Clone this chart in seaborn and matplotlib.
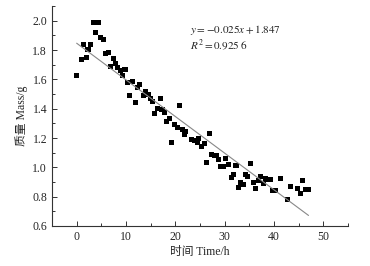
import matplotlib
matplotlib.use('Agg')
import numpy as np
import pandas as pd
import seaborn as sns
from matplotlib import pyplot as plt
from matplotlib.ticker import MultipleLocator

# 数据
time_h = [0, 0.9, 1.35, 1.9, 2.3, 2.8, 3.4, 3.8, 4.4, 4.8, 5.4, 5.8, 6.4, 6.8, 7.4, 7.9,
          8.35, 8.8, 9.35, 9.8, 10.3, 10.8, 11.3, 11.85, 12.3, 12.7, 13.5, 13.9, 14.5, 14.9,
          15.35, 15.8, 16.4, 16.9, 17.3, 17.9, 18.3, 18.9, 19.3, 19.9, 20.5, 20.8, 21.4, 21.8,
          22.0, 23.2, 23.8, 24.4, 24.6, 25.3, 25.9, 26.4, 26.9, 27.3, 27.9, 28.4, 28.8, 29.2,
          29.8, 30.2, 30.8, 31.3, 31.8, 32.3, 32.8, 33.3, 33.8, 34.3, 34.7, 35.3, 35.8, 36.3,
          36.8, 37.3, 37.8, 38.2, 38.8, 39.3, 39.7, 40.3, 41.3, 42.8, 43.3, 44.8, 45.3, 45.8,
          46.3, 46.9]
mass_g = [1.625, 1.734, 1.836, 1.75, 1.807, 1.836, 1.99, 1.92, 1.99, 1.886, 1.87, 1.775, 1.786,
          1.688, 1.74, 1.71, 1.68, 1.66, 1.63, 1.667, 1.58, 1.49, 1.588, 1.44, 1.545, 1.565,
          1.488, 1.517, 1.497, 1.467, 1.447, 1.37, 1.40, 1.47, 1.392, 1.377, 1.31, 1.336, 1.167,
          1.29, 1.274, 1.424, 1.258, 1.224, 1.244, 1.19, 1.185, 1.167, 1.194, 1.14, 1.162, 1.035,
          1.23, 1.085, 1.08, 1.08, 1.053, 1.008, 1.003, 1.062, 1.017, 0.93, 0.953, 1.012, 0.862,
          0.894, 0.882, 0.95, 0.94, 1.026, 0.898, 0.853, 0.912, 0.94, 0.889, 0.921, 0.916,
          0.916, 0.844, 0.844, 0.926, 0.784, 0.871, 0.858, 0.825, 0.909, 0.848, 0.848]

# 拟合直线 y = -0.025x + 1.847
slope = -0.025
intercept = 1.847
fit_x = [0, 47]

df = pd.DataFrame({'time': time_h, 'mass': mass_g})
fit_df = pd.DataFrame({'time': fit_x, 'mass': [slope * x + intercept for x in fit_x]})

sns.set_style('ticks')
plt.rcParams['font.family'] = ['Liberation Serif', 'Noto Sans CJK SC']
plt.rcParams['mathtext.fontset'] = 'stix'

fig = plt.figure(figsize=(3.7, 2.66), dpi=100)
ax = fig.add_axes([0.1405, 0.1504, 0.80, 0.8266])

sns.lineplot(x='time', y='mass', data=fit_df, ax=ax, color='#888888', linewidth=0.8)
sns.scatterplot(x='time', y='mass', data=df, ax=ax, marker='s', s=13,
                color='black', edgecolor='none')

ax.set_xlim(-5, 55)
ax.set_ylim(0.6, 2.1)
ax.xaxis.set_major_locator(MultipleLocator(10))
ax.xaxis.set_minor_locator(MultipleLocator(5))
ax.yaxis.set_major_locator(MultipleLocator(0.2))
ax.yaxis.set_minor_locator(MultipleLocator(0.1))
ax.tick_params(which='both', direction='in', labelsize=8.5, width=0.7, color='#333333')
ax.tick_params(which='major', length=3.5)
ax.tick_params(which='minor', length=2)
for s in ['top', 'right']:
    ax.spines[s].set_visible(False)
for s in ['left', 'bottom']:
    ax.spines[s].set_linewidth(0.8)
    ax.spines[s].set_color('#333333')

ax.set_xlabel('时间 Time/h', fontsize=8.5, labelpad=2)
ax.set_ylabel('质量 Mass/g', fontsize=8.5, labelpad=3)

ax.text(23.0, 1.94, r'$y = -0.025x + 1.847$', fontsize=8, va='center', color='#222222')
ax.text(23.0, 1.83, r'$R^2 = 0.925\ 6$', fontsize=8, va='center', color='#222222')

fig.savefig('out.png', dpi=100)
